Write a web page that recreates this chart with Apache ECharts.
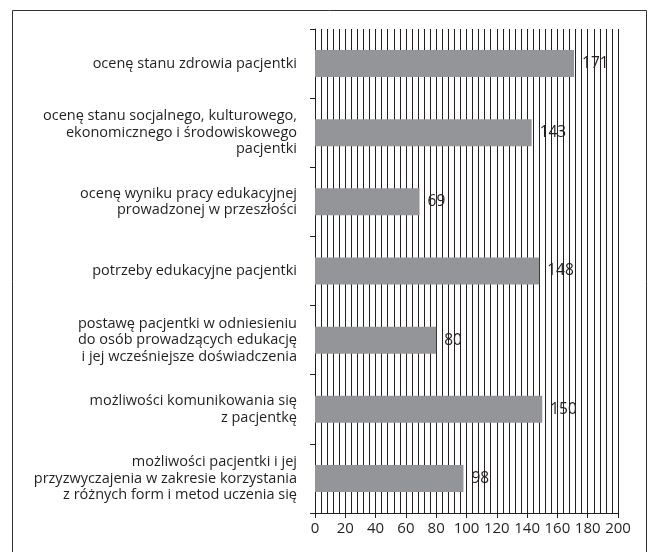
<!DOCTYPE html>
<html><head><meta charset="utf-8">
<script src="https://cdn.jsdelivr.net/npm/echarts@6/dist/echarts.min.js"></script>
<style>html,body{margin:0;padding:0;background:#fff}#c{width:649px;height:552px}</style>
</head><body><div id="c"></div>
<script>
const categories = [
  "ocenę stanu zdrowia pacjentki",
  "ocenę stanu socjalnego, kulturowego,\nekonomicznego i środowiskowego\npacjentki",
  "ocenę wyniku pracy edukacyjnej\nprowadzonej w przeszłości",
  "potrzeby edukacyjne pacjentki",
  "postawę pacjentki w odniesieniu\ndo osób prowadzących edukację\ni jej wcześniejsze doświadczenia",
  "możliwości komunikowania się\nz pacjentkę",
  "możliwości pacjentki i jej\nprzyzwyczajenia w zakresie korzystania\nz różnych form i metod uczenia się"
];
const values = [171, 143, 69, 148, 80, 150, 98];
const xTicks = {min: 0, max: 200, interval: 20};
const font = "'Open Sans', 'Noto Sans', sans-serif";
const chart = echarts.init(document.getElementById('c'));
chart.setOption({
  animation: false,
  graphic: [{type: 'rect', shape: {x: 12.5, y: 10.5, width: 634, height: 560}, style: {fill: 'none', stroke: '#333', lineWidth: 1}}],
  grid: {left: 315, right: 31, top: 29, bottom: 39, containLabel: false},
  xAxis: {
    type: 'value', min: xTicks.min, max: xTicks.max, interval: xTicks.interval,
    axisLine: {show: true, lineStyle: {color: '#231f20', width: 1}},
    axisTick: {show: true, length: 5, lineStyle: {color: '#231f20'}},
    axisLabel: {color: '#231f20', fontSize: 15, fontFamily: font, margin: 8},
    splitLine: {show: true, lineStyle: {color: '#231f20', width: 1}},
    minorTick: {show: false, splitNumber: 5},
    minorSplitLine: {show: true, lineStyle: {color: '#231f20', width: 1}}
  },
  yAxis: {
    type: 'category', data: categories, inverse: true,
    axisLine: {show: true, lineStyle: {color: '#231f20', width: 1}},
    axisTick: {show: true, length: 5, lineStyle: {color: '#231f20'}},
    axisLabel: {color: '#231f20', fontSize: 14.5, fontFamily: font, margin: 18, lineHeight: 16.5, align: 'right'}
  },
  series: [{
    type: 'bar', data: values, barWidth: '39%',
    itemStyle: {color: '#939598'},
    label: {show: true, position: 'right', distance: 8, color: '#231f20', fontSize: 15.5, fontFamily: font}
  }]
});
</script></body></html>
